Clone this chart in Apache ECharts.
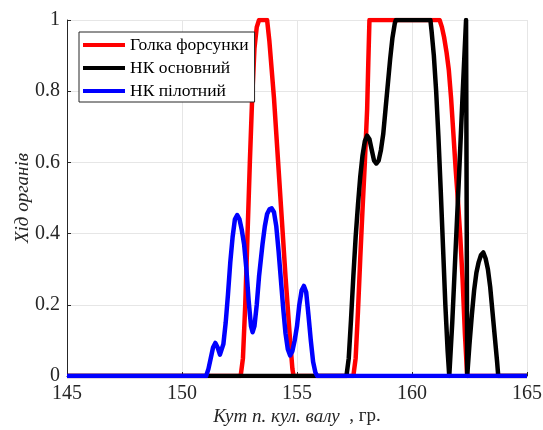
<!DOCTYPE html>
<html>
<head>
<meta charset="utf-8">
<script src="https://cdn.jsdelivr.net/npm/echarts@6/dist/echarts.min.js"></script>
<style>
  html, body { margin: 0; padding: 0; background: #fff; }
  #main { width: 543px; height: 430px; }
</style>
</head>
<body>
<div id="main"></div>
<script>
var seriesNames = ['Голка форсунки', 'НК основний', 'НК пілотний'];
var xTicks = [145, 150, 155, 160, 165];

// Голка форсунки
var needle = [
  [145, 0], [152.55, 0], [152.65, 0.05], [152.75, 0.2], [152.85, 0.4], [152.95, 0.6],
  [153.05, 0.78], [153.15, 0.92], [153.25, 0.98], [153.35, 1], [153.7, 1],
  [153.8, 0.94], [153.9, 0.86], [154.0, 0.78], [154.1, 0.68], [154.2, 0.58],
  [154.3, 0.48], [154.4, 0.38], [154.5, 0.28], [154.6, 0.19], [154.7, 0.1],
  [154.8, 0.02], [154.85, 0], [157.45, 0], [157.55, 0.05], [157.65, 0.18],
  [157.75, 0.33], [157.85, 0.47], [157.95, 0.6], [158.05, 0.75], [158.1, 0.88],
  [158.15, 1], [161.2, 1], [161.3, 0.98], [161.4, 0.95], [161.5, 0.91],
  [161.6, 0.86], [161.7, 0.78], [161.8, 0.68], [161.9, 0.58], [162.0, 0.49],
  [162.1, 0.39], [162.2, 0.27], [162.3, 0.12], [162.4, 0], [165, 0]
];

// НК основний
var mainValve = [
  [145, 0], [157.15, 0], [157.25, 0.05], [157.35, 0.16], [157.45, 0.28],
  [157.55, 0.39], [157.65, 0.48], [157.75, 0.56], [157.85, 0.62], [157.95, 0.66],
  [158.05, 0.675], [158.15, 0.665], [158.25, 0.635], [158.35, 0.605], [158.45, 0.597],
  [158.55, 0.605], [158.65, 0.635], [158.75, 0.68], [158.85, 0.75], [158.95, 0.82],
  [159.05, 0.89], [159.15, 0.95], [159.25, 0.99], [159.3, 1], [160.8, 1],
  [160.85, 0.97], [160.95, 0.9], [161.05, 0.8], [161.15, 0.67], [161.25, 0.52],
  [161.35, 0.36], [161.45, 0.2], [161.55, 0.07], [161.62, 0], [161.75, 0.15],
  [161.9, 0.36], [162.05, 0.57], [162.2, 0.79], [162.35, 1], [162.4, 0],
  [162.5, 0.09], [162.6, 0.17], [162.7, 0.24], [162.8, 0.29], [162.9, 0.32],
  [163.0, 0.34], [163.1, 0.347], [163.2, 0.33], [163.3, 0.3], [163.4, 0.25],
  [163.5, 0.18], [163.6, 0.11], [163.7, 0.04], [163.75, 0], [165, 0]
];

// НК пілотний
var pilotValve = [
  [145, 0], [151.05, 0], [151.15, 0.02], [151.25, 0.05], [151.35, 0.08],
  [151.45, 0.093], [151.55, 0.08], [151.65, 0.06], [151.72, 0.065], [151.8, 0.09],
  [151.9, 0.15], [152.0, 0.23], [152.1, 0.32], [152.2, 0.39], [152.3, 0.44],
  [152.4, 0.452], [152.5, 0.44], [152.6, 0.41], [152.7, 0.37], [152.8, 0.3],
  [152.9, 0.21], [153.0, 0.14], [153.07, 0.123], [153.15, 0.14], [153.25, 0.2],
  [153.35, 0.28], [153.5, 0.37], [153.6, 0.42], [153.7, 0.455], [153.8, 0.468],
  [153.9, 0.471], [154.0, 0.46], [154.1, 0.42], [154.2, 0.35], [154.3, 0.27],
  [154.4, 0.19], [154.5, 0.12], [154.6, 0.075], [154.7, 0.058], [154.8, 0.07],
  [154.9, 0.1], [155.0, 0.14], [155.1, 0.2], [155.2, 0.24], [155.3, 0.253],
  [155.4, 0.235], [155.5, 0.17], [155.6, 0.1], [155.7, 0.04], [155.8, 0.01],
  [155.88, 0], [165, 0]
];

var serif = '"Liberation Serif", "DejaVu Serif", serif';
var myChart = echarts.init(document.getElementById('main'));

var option = {
  animation: false,
  backgroundColor: '#fff',
  grid: { left: 67, right: 16, top: 20, bottom: 54, containLabel: false, outerBoundsMode: 'none' },
  legend: {
    orient: 'vertical',
    left: 79, top: 32,
    data: seriesNames,
    icon: 'rect',
    itemWidth: 42, itemHeight: 4,
    itemGap: 5,
    padding: [4, 6, 2, 4],
    borderColor: '#262626', borderWidth: 1,
    backgroundColor: '#fff',
    textStyle: { fontFamily: serif, fontSize: 17.5, color: '#000', lineHeight: 17.5 }
  },
  xAxis: {
    type: 'value',
    min: xTicks[0], max: xTicks[xTicks.length - 1], interval: 5,
    name: '{i|Кут п. кул. валу}  , гр.',
    nameLocation: 'middle', nameGap: 31, nameMoveOverlap: false,
    nameTextStyle: {
      fontFamily: serif, fontSize: 19, color: '#262626',
      rich: { i: { fontFamily: serif, fontSize: 19, fontStyle: 'italic', color: '#262626' } }
    },
    axisLine: { lineStyle: { color: '#262626', width: 1 } },
    axisTick: { inside: true, length: 4, lineStyle: { color: '#262626' } },
    axisLabel: { fontFamily: serif, fontSize: 20, color: '#262626', margin: 8 },
    splitLine: { show: true, lineStyle: { color: '#e6e6e6', width: 1 } }
  },
  yAxis: {
    type: 'value',
    min: 0, max: 1, interval: 0.2,
    name: 'Хід органів',
    nameLocation: 'middle', nameGap: 35, nameMoveOverlap: false,
    nameTextStyle: { fontFamily: serif, fontSize: 19, fontStyle: 'italic', color: '#262626' },
    axisLine: { show: true, lineStyle: { color: '#262626', width: 1 } },
    axisTick: { show: true, inside: true, length: 4, lineStyle: { color: '#262626' } },
    axisLabel: { fontFamily: serif, fontSize: 20, color: '#262626', margin: 7 },
    splitLine: { show: true, lineStyle: { color: '#e6e6e6', width: 1 } }
  },
  series: [
    { name: seriesNames[0], type: 'line', data: needle, showSymbol: false,
      itemStyle: { color: '#ff0000' }, lineStyle: { color: '#ff0000', width: 4.5, join: 'round' } },
    { name: seriesNames[1], type: 'line', data: mainValve, showSymbol: false,
      itemStyle: { color: '#000000' }, lineStyle: { color: '#000000', width: 4.5, join: 'round' } },
    { name: seriesNames[2], type: 'line', data: pilotValve, showSymbol: false,
      itemStyle: { color: '#0000ff' }, lineStyle: { color: '#0000ff', width: 4.5, join: 'round' } }
  ]
};
myChart.setOption(option);
</script>
</body>
</html>
